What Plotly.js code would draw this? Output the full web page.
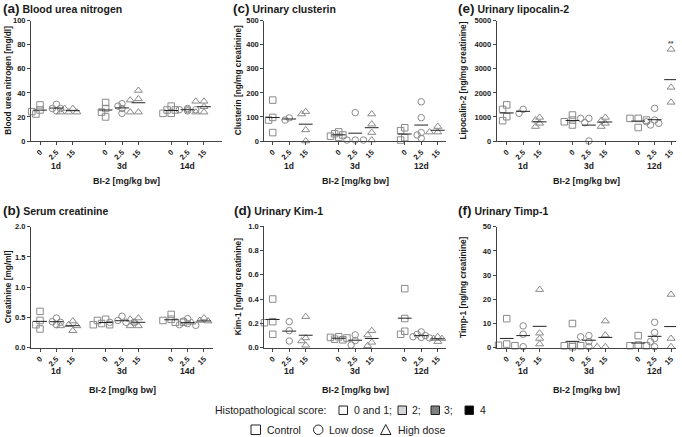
<!DOCTYPE html>
<html><head><meta charset="utf-8">
<script src="https://cdn.plot.ly/plotly-3.0.1.min.js"></script>
<style>html,body{margin:0;padding:0;background:#fff}#chart{width:682px;height:437px}</style>
</head><body><div id="chart"></div>
<script>
// ---------------- DATA ----------------
const doseLabels = ['0', '2.5', '15'];
const doseNames = ['Control', 'Low dose', 'High dose'];
const daysSerum = ['1d', '3d', '14d'];
const daysUrine = ['1d', '3d', '12d'];
// each list: 9 groups, order 1st day (0, 2.5, 15), 2nd day (...), 3rd day (...)
const bunValues = [
  [30, 25.8, 24.4, 22.4],
  [30.5, 27, 27, 25],
  [27, 27, 24, 24, 24],
  [32, 27, 24, 20],
  [31, 29, 27, 23],
  [42, 35, 34, 24, 24],
  [29, 25.8, 25.8, 23, 23],
  [27, 26, 26, 25, 26],
  [33, 33, 28.5, 24, 24]
];
const creatinineValues = [
  [0.6, 0.45, 0.38, 0.31],
  [0.49, 0.43, 0.42, 0.38],
  [0.44, 0.38, 0.36, 0.36, 0.28],
  [0.47, 0.45, 0.40, 0.38, 0.38],
  [0.52, 0.45, 0.42, 0.42, 0.42],
  [0.49, 0.47, 0.42, 0.36, 0.36],
  [0.55, 0.47, 0.45, 0.42, 0.42],
  [0.48, 0.44, 0.40, 0.38, 0.37],
  [0.49, 0.45, 0.44, 0.42, 0.41]
];
const clusterinValues = [
  [170, 98, 87, 35],
  [87, 96],
  [122, 112, 46, 0],
  [38, 30, 25, 20, 15],
  [118, 4, 4, 4],
  [112, 70, 35, 4],
  [55, 43, 14, 4],
  [163, 97, 35, 25, 11],
  [60, 37, 37]
];
const kim1Values = [
  [0.40, 0.214, 0.205, 0.11],
  [0.214, 0.14, 0.055],
  [0.255, 0.08, 0.055, 0.02],
  [0.09, 0.085, 0.08, 0.07, 0.065],
  [0.105, 0.058, 0.022],
  [0.14, 0.104, 0.044, 0.016],
  [0.485, 0.24, 0.135, 0.11],
  [0.13, 0.11, 0.10, 0.09, 0.085, 0.08],
  [0.09, 0.075, 0.075, 0.05]
];
const lipocalinValues = [
  [1500, 1315, 1010, 845],
  [1150, 1315],
  [980, 870, 735, 600],
  [1080, 870, 800, 665],
  [940, 940, 760, 0],
  [980, 845, 735, 600],
  [940, 940, 870, 560],
  [1357, 800, 870, 665, 735],
  [3810, 2230, 1607]
];
const timp1Values = [
  [12, 1.5, 1, 0.8],
  [9, 5.6, 0.4],
  [24, 6, 3.8, 1.5],
  [10, 1.1, 0.8, 0.8, 0.4],
  [5, 4.5, 2.5, 0.4],
  [11, 5.2, 0.4, 0.4],
  [5, 1.1, 0.8, 0.8],
  [10.5, 6.3, 3.8, 2.5, 0.4],
  [22, 3.8, 0.4]
];
const significanceLipocalin = {group: 8, label: '**'};
const scoreLabels = ['0 and 1;', '2;', '3;', '4'];
const scoreColors = ['#ffffff', '#d6d6d6', '#7f7f7f', '#000000'];

// ---------------- LAYOUT HELPERS ----------------
const W = 682, H = 437;
const X = p => p / W, Y = p => 1 - p / H;
const FONT = 'Liberation Sans, Arial, sans-serif';
const TXT = '#1a1a1a', AX = '#444';
const MK = '#8a8a8a';

const panels = [
  {lab:'(a)', title:'Blood urea nitrogen', ytitle:'Blood urea nitrogen [mg/dl]', vals:bunValues, days:daysSerum,
   ymax:100, dtick:20, fmt:'d', px:[31,221.7], py:[20.7,141], xr:[0.45,12.08], ytx:8, tx:1, ty:8},
  {lab:'(b)', title:'Serum creatinine', ytitle:'Creatinine [mg/ml]', vals:creatinineValues, days:daysSerum,
   ymax:2, dtick:0.5, fmt:'.1f', px:[31,213], py:[226.7,347.7], xr:[0.45,11.55], ytx:8, tx:1, ty:210},
  {lab:'(c)', title:'Urinary clusterin', ytitle:'Clusterin [ng/mg creatinine]', vals:clusterinValues, days:daysUrine,
   ymax:500, dtick:100, fmt:'d', px:[264.3,446], py:[20.7,141], xr:[0.49,11.5], ytx:237.5, tx:231, ty:8},
  {lab:'(d)', title:'Urinary Kim-1', ytitle:'Kim-1 [ng/mg creatinine]', vals:kim1Values, days:daysUrine,
   ymax:1, dtick:0.2, fmt:'.1f', px:[264.3,446], py:[226,347.7], xr:[0.49,11.5], ytx:237.5, tx:232, ty:210},
  {lab:'(e)', title:'Urinary lipocalin-2', ytitle:'Lipocalin-2 [ng/mg creatinine]', vals:lipocalinValues, days:daysUrine,
   ymax:5000, dtick:1000, fmt:'d', px:[496.7,676], py:[20.7,141], xr:[0.39,11.3], ytx:462.7, tx:456, ty:8, sig:significanceLipocalin},
  {lab:'(f)', title:'Urinary Timp-1', ytitle:'Timp-1 [ng/mg creatinine]', vals:timp1Values, days:daysUrine,
   ymax:50, dtick:10, fmt:'d', px:[496.7,676], py:[226.7,347.7], xr:[0.39,11.3], ytx:462.7, tx:456, ty:210}
];
const symbols = ['square-open', 'circle-open', 'triangle-up-open'];
const groupPos = g => Math.floor(g / 3) * 4 + (g % 3) + 1;

const traces = [];
const layout = {
  width: W, height: H, margin: {l:0, r:0, t:0, b:0},
  paper_bgcolor: '#fff', plot_bgcolor: '#fff', showlegend: false,
  font: {family: FONT, color: TXT},
  annotations: [], shapes: []
};

panels.forEach((P, i) => {
  const n = i + 1, sx = n === 1 ? '' : String(n);
  const xa = 'x' + sx, ya = 'y' + sx;
  const pxX = (P.px[1] - P.px[0]) / (P.xr[1] - P.xr[0]);
  const pxY = (P.py[1] - P.py[0]) / P.ymax;
  const offsets = [0, -0.25, 0.25, -0.5, 0.5, -0.75, 0.75];
  const byDose = [[[], []], [[], []], [[], []]];
  const mx = [], my = [];
  P.vals.forEach((vals, g) => {
    const pos = groupPos(g), d = g % 3;
    const placed = [];
    const sorted = vals.slice().sort((a, b) => b - a);
    sorted.forEach(v => {
      let off = 0;
      for (const o of offsets) {
        const clash = placed.some(p => Math.hypot((o - p.o) * pxX, (v - p.v) * pxY) < 4.5);
        if (!clash) { off = o; break; }
      }
      placed.push({o: off, v: v});
      byDose[d][0].push(pos + off);
      byDose[d][1].push(v);
    });
    const m = vals.reduce((a, b) => a + b, 0) / vals.length;
    mx.push(pos - 0.42, pos + 0.42, null);
    my.push(m, m, null);
  });
  byDose.forEach((xy, d) => {
    traces.push({type:'scatter', mode:'markers', x:xy[0], y:xy[1], xaxis:xa, yaxis:ya,
      cliponaxis:false, name:doseNames[d], hoverinfo:'y',
      marker:{symbol:symbols[d], size:d === 2 ? 7 : 6.5, color:MK, line:{width:1, color:MK}}});
  });
  traces.push({type:'scatter', mode:'lines', x:mx, y:my, xaxis:xa, yaxis:ya, cliponaxis:false,
    line:{color:'#222', width:1}, hoverinfo:'skip'});

  const tv = [], tt = [];
  for (let g = 0; g < 9; g++) { tv.push(groupPos(g)); tt.push(doseLabels[g % 3]); }
  const yt = [];
  for (let v = 0; v <= P.ymax + 1e-9; v += P.dtick) yt.push(+v.toFixed(4));

  layout['xaxis' + sx] = {domain:[X(P.px[0]), X(P.px[1])], anchor:ya, range:P.xr,
    tickvals:tv, ticktext:tt, tickangle:-45, ticks:'outside', ticklen:3, tickwidth:1, tickcolor:AX,
    showline:true, linecolor:AX, linewidth:1, showgrid:false, zeroline:false, fixedrange:true,
    tickfont:{family:FONT, size:7.5, weight:'bold', color:TXT}};
  layout['yaxis' + sx] = {domain:[Y(P.py[1]), Y(P.py[0])], anchor:xa, range:[0, P.ymax],
    tickvals:yt, tickformat:P.fmt, ticks:'outside', ticklen:3, tickwidth:1, tickcolor:AX,
    showline:true, linecolor:AX, linewidth:1, showgrid:false, zeroline:false, fixedrange:true,
    tickfont:{family:FONT, size:7.5, weight:'bold', color:TXT}};

  const A = layout.annotations;
  A.push({xref:'paper', yref:'paper', x:X(P.tx), y:Y(P.ty), xanchor:'left', yanchor:'middle', showarrow:false,
    text:'<b><span style="font-size:13.5px">' + P.lab + '</span> ' + P.title + '</b>',
    font:{family:FONT, size:10.5, color:TXT}});
  A.push({xref:'paper', yref:'paper', x:X(P.ytx), y:Y((P.py[0] + P.py[1]) / 2), xanchor:'center', yanchor:'middle',
    showarrow:false, textangle:-90, text:'<b>' + P.ytitle + '</b>', font:{family:FONT, size:8.3, color:TXT}});
  const row1 = P.py[0] < 100;
  P.days.forEach((dl, k) => {
    A.push({xref:xa, yref:'paper', x:k * 4 + 2, y:Y(row1 ? 166 : 371), xanchor:'center', yanchor:'middle',
      showarrow:false, text:'<b>' + dl + '</b>', font:{family:FONT, size:8.5, color:TXT}});
  });
  A.push({xref:'paper', yref:'paper', x:X((P.px[0] + P.px[1]) / 2), y:Y(row1 ? 180.5 : 390), xanchor:'center',
    yanchor:'middle', showarrow:false, text:'<b>BI-2 [mg/kg bw]</b>', font:{family:FONT, size:9, color:TXT}});
  if (P.sig) {
    const gv = P.vals[P.sig.group];
    A.push({xref:xa, yref:ya, x:groupPos(P.sig.group), y:Math.max(...gv) + P.ymax * 0.05, xanchor:'center',
      yanchor:'middle', showarrow:false, text:'<b>' + P.sig.label + '</b>', font:{family:FONT, size:7, color:'#555'}});
  }
});

// ---------------- BOTTOM KEY ----------------
const A = layout.annotations, S = layout.shapes;
A.push({xref:'paper', yref:'paper', x:X(212.5), y:Y(410), xanchor:'left', yanchor:'middle', showarrow:false,
  text:'Histopathological score:', font:{family:FONT, size:10.5, color:TXT}});
const boxX = [339, 398, 431, 465], textX = [352, 410, 442, 477.5];
scoreLabels.forEach((s, k) => {
  S.push({type:'rect', xref:'paper', yref:'paper', x0:X(boxX[k]), x1:X(boxX[k] + 8.5), y0:Y(414.5), y1:Y(406),
    fillcolor:scoreColors[k], line:{color:'#222', width:1}});
  A.push({xref:'paper', yref:'paper', x:X(textX[k]), y:Y(410), xanchor:'left', yanchor:'middle', showarrow:false,
    text:s, font:{family:FONT, size:10.5, color:TXT}});
});
S.push({type:'rect', xref:'paper', yref:'paper', x0:X(251), x1:X(260.5), y0:Y(434.5), y1:Y(425), line:{color:'#222', width:1}});
S.push({type:'circle', xref:'paper', yref:'paper', x0:X(313.5), x1:X(323), y0:Y(434.5), y1:Y(425), line:{color:'#222', width:1}});
S.push({type:'path', xref:'paper', yref:'paper',
  path:'M ' + X(380.5) + ' ' + Y(434.5) + ' L ' + X(391) + ' ' + Y(434.5) + ' L ' + X(385.75) + ' ' + Y(424.5) + ' Z',
  line:{color:'#222', width:1}});
[[264.5, doseNames[0]], [327, doseNames[1]], [396, doseNames[2]]].forEach(([x, t]) => {
  A.push({xref:'paper', yref:'paper', x:X(x), y:Y(430), xanchor:'left', yanchor:'middle', showarrow:false,
    text:t, font:{family:FONT, size:10.5, color:TXT}});
});

Plotly.newPlot('chart', traces, layout, {staticPlot:true, displayModeBar:false});
</script>
</body></html>
